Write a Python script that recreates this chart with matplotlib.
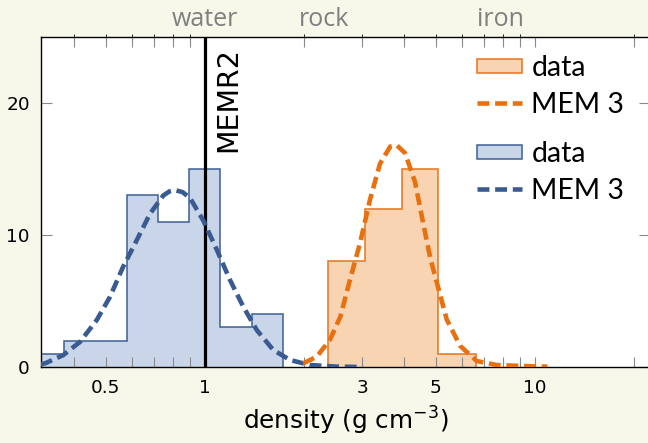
import matplotlib
matplotlib.use("Agg")
import matplotlib.pyplot as plt
from matplotlib.patches import Patch, Rectangle
from matplotlib.lines import Line2D
from matplotlib.legend_handler import HandlerPatch

# ---- data -------------------------------------------------------------
# low-density population histogram (log-uniform bins)
blue_edges = [0.300, 0.374, 0.465, 0.579, 0.720, 0.894, 1.111, 1.385, 1.720]
blue_counts = [1, 2, 2, 13, 11, 15, 3, 4]

# high-density population histogram
orange_edges = [2.364, 3.05, 3.95, 5.09, 6.61]
orange_counts = [8, 12, 15, 1]

# MEM 3 model curves
blue_mem_x = [0.318, 0.328, 0.372, 0.418, 0.470, 0.515, 0.565, 0.621, 0.681,
              0.748, 0.780, 0.811, 0.855, 0.901, 0.988, 1.085, 1.190, 1.306,
              1.435, 1.610, 1.810, 2.080, 2.500, 3.000]
blue_mem_y = [0.22, 0.28, 0.90, 1.90, 3.56, 5.30, 7.60, 9.60, 11.6,
              13.0, 13.3, 13.4, 13.25, 12.8, 11.1, 8.9, 6.6, 4.57,
              2.8, 1.29, 0.53, 0.15, 0.03, 0.0]

orange_mem_x = [1.986, 2.180, 2.390, 2.570, 2.750, 2.950, 3.160, 3.390, 3.640,
                3.810, 4.040, 4.330, 4.590, 4.810, 5.090, 5.400, 5.930, 6.660,
                7.660, 9.860, 10.90]
orange_mem_y = [0.28, 0.78, 2.05, 3.8, 6.6, 9.4, 12.65, 15.4, 16.7,
                16.8, 16.2, 14.0, 10.8, 8.3, 6.0, 3.6, 1.6, 0.45,
                0.15, 0.05, 0.03]

memr2_density = 1.0

top_labels = ["water", "rock", "iron"]
top_label_pos = [1.0, 2.3, 7.87]

x_tick_pos = [0.4, 0.5, 0.6, 0.7, 0.8, 0.9, 1, 2, 3, 4, 5, 6, 7, 8, 9, 10, 20]
x_tick_shown = {0.5: "0.5", 1: "1", 3: "3", 5: "5", 10: "10"}
y_ticks = [0, 10, 20]

# ---- style ------------------------------------------------------------
BG = "#f7f7ea"
BLUE_FILL, BLUE_EDGE, BLUE_LINE = "#c9d5e8", "#3d5f94", "#3a5b91"
ORANGE_FILL, ORANGE_EDGE, ORANGE_LINE = "#f8d4b2", "#e8731c", "#e8700f"
TICK_GREY = "#8a8a8a"
DASH = (2.6, 1.25)

W, H = 648, 443
fig = plt.figure(figsize=(W / 100, H / 100), dpi=100, facecolor=BG)
ax = fig.add_axes([41 / W, (H - 367) / H, (650 - 41) / W, (367 - 37) / H])
ax.set_facecolor("white")

ax.set_xscale("log")
ax.set_xlim(0.3185, 22.3)
ax.set_ylim(0, 25)

# histograms
ax.stairs(blue_counts, blue_edges, fill=True, color=BLUE_FILL, zorder=1)
ax.stairs(blue_counts, blue_edges, color=BLUE_EDGE, lw=1.1, baseline=0, zorder=1.5)
ax.stairs(orange_counts, orange_edges, fill=True, color=ORANGE_FILL, zorder=1)
ax.stairs(orange_counts, orange_edges, color=ORANGE_EDGE, lw=1.1, baseline=0, zorder=1.5)

# reference line
ax.axvline(memr2_density, color="black", lw=2.3, zorder=2)
ax.annotate("MEMR2", xy=(memr2_density, 1), xycoords=("data", "axes fraction"),
            xytext=(7, -7), textcoords="offset points", rotation=90,
            ha="left", va="top", fontsize=20.5, family="DejaVu Sans", zorder=5)

# model curves
ax.plot(blue_mem_x, blue_mem_y, color=BLUE_LINE, lw=3.3, dashes=DASH,
        dash_capstyle="butt", zorder=3)
ax.plot(orange_mem_x, orange_mem_y, color=ORANGE_LINE, lw=3.3, dashes=DASH,
        dash_capstyle="butt", zorder=3.1)

# axes, ticks
for s in ax.spines.values():
    s.set_linewidth(1.0)
    s.set_color("black")

ax.set_xticks(x_tick_pos)
ax.set_xticklabels([x_tick_shown.get(v, "") for v in x_tick_pos])
ax.xaxis.set_minor_locator(matplotlib.ticker.NullLocator())
ax.set_yticks(y_ticks)
ax.set_yticklabels([str(v) for v in y_ticks])
ax.tick_params(axis="x", which="both", direction="in", length=7, width=0.8,
               color=TICK_GREY, top=True, labelsize=13.3, pad=8.5)
ax.tick_params(axis="y", direction="in", length=8, width=0.8, color=TICK_GREY,
               right=True, labelsize=13.3, pad=8)

ax.set_xlabel(r"density (g cm$^{-3}$)", fontsize=17.8, labelpad=6)

# material names along the top
top = ax.secondary_xaxis("top")
top.set_xticks(top_label_pos)
top.set_xticklabels(top_labels)
top.tick_params(length=0, labelsize=18, labelcolor="#7f7f7f", pad=3.5)
for lab in top.get_xticklabels():
    lab.set_family("Open Sans")
top.spines["top"].set_visible(False)


# legends: one group per population
def flat_box(legend, orig_handle, xdescent, ydescent, width, height, fontsize):
    h = height * 0.72
    return Rectangle((-xdescent, -ydescent + (height - h) / 2), width, h)


leg_kw = dict(frameon=False, prop={"family": "Lato", "size": 20.4},
              handlelength=1.6, handletextpad=0.32, labelspacing=0.38,
              borderaxespad=0, borderpad=0,
              handler_map={Patch: HandlerPatch(patch_func=flat_box)})
h1 = [Patch(facecolor=ORANGE_FILL, edgecolor=ORANGE_EDGE, lw=1.1),
      Line2D([], [], color=ORANGE_LINE, lw=3.3, dashes=DASH)]
h2 = [Patch(facecolor=BLUE_FILL, edgecolor=BLUE_EDGE, lw=1.1),
      Line2D([], [], color=BLUE_LINE, lw=3.3, dashes=DASH)]
leg1 = ax.legend(h1, ["data", "MEM 3"], loc="upper left",
                 bbox_to_anchor=(477 / W, 1 - 55 / H), bbox_transform=fig.transFigure,
                 **leg_kw)
ax.add_artist(leg1)
ax.legend(h2, ["data", "MEM 3"], loc="upper left",
          bbox_to_anchor=(477 / W, 1 - 141 / H), bbox_transform=fig.transFigure,
          **leg_kw)

fig.savefig("out.png", dpi=100, facecolor=BG)
